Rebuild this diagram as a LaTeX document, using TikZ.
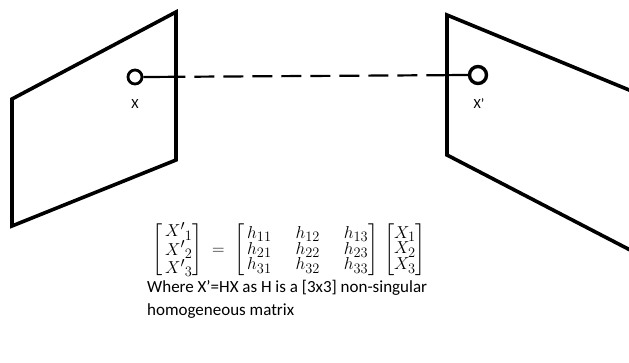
\documentclass[tikz,border=0pt]{standalone}
\usepackage{amsmath}
\usepackage{fontspec}
\setmainfont{Carlito}
\usepackage{tikz}
\usetikzlibrary{positioning}

\begin{document}
\begin{tikzpicture}[
  x=1pt, y=-1pt,
  plane/.style={line width=3.6pt, line join=miter},
  pt/.style={draw, circle, line width=2.8pt, inner sep=0pt, minimum size=14pt},
  lbl/.style={font=\fontsize{14}{16}\selectfont, inner sep=0pt},
  ray/.style={line width=2.2pt,
    dash pattern=on 42pt off 9pt on 20pt off 9pt on 20pt off 9pt on 20pt off 9pt
      on 20pt off 9pt on 20pt off 9pt on 20pt off 9pt on 20pt off 9pt on 20pt off 9pt on 80pt off 0pt}
]
\useasboundingbox (0,0) rectangle (629,362);
% image planes
\draw[plane] (12,99) -- (176,12) -- (176,160) -- (12,226) -- cycle;
\begin{scope}
\clip (0,0) rectangle (629,362);
\draw[plane] (447,15) -- (634,92) -- (634,252) -- (447,155) -- cycle;
\end{scope}
% points
\node[pt] (x) at (135,77) {};
\node[pt, minimum size=17pt, line width=3.4pt] (xp) at (478,75) {};
\node[lbl] (xlab) at (135,104) {X};
\node[lbl] (xplab) at (479,104) {X'};
\draw[ray] (x.east) -- (xp.west);
% homography
\node[font=\fontsize{19}{20}\selectfont, inner sep=0pt] (eq) at (289,250)
  {\renewcommand\arraystretch{0.66}\setlength\arraycolsep{12pt}%
   $\begin{bmatrix}\,{X'}_{1}\\\,{X'}_{2}\\\,{X'}_{3}\end{bmatrix}
   \;=\;\begin{bmatrix}\,h_{11} & h_{12} & h_{13}\\\,h_{21} & h_{22} & h_{23}\\\,h_{31} & h_{32} & h_{33}\end{bmatrix}
   \,\begin{bmatrix}X_1\\X_2\\X_3\end{bmatrix}$};
\node[lbl, font=\fontsize{17}{23}\selectfont, align=left, anchor=north west] (note) at (147,280)
  {Where X'=HX as H is a [3x3] non-singular\\homogeneous matrix};
\end{tikzpicture}
\end{document}
